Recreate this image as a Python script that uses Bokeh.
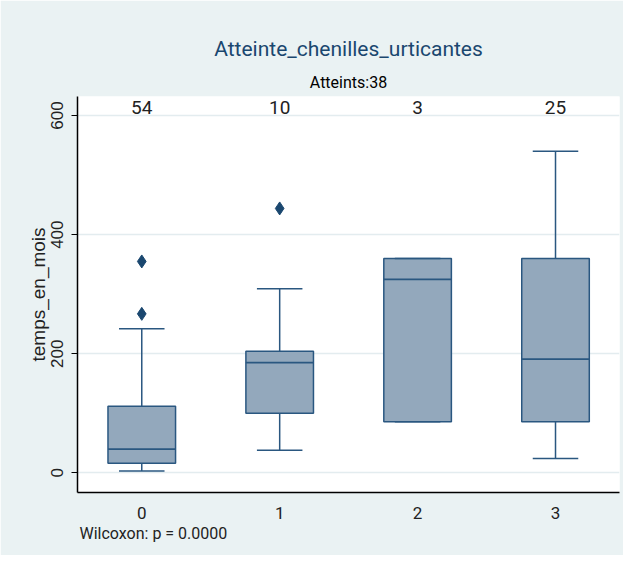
from bokeh.plotting import figure
from bokeh.models import Range1d, FixedTicker, Title
from bokeh.embed import file_html
from bokeh.resources import INLINE
from bokeh.core.properties import value

# ---- data ----
categories = ["0", "1", "2", "3"]
cat_pos = [0, 1, 2, 3]
counts = [54, 10, 3, 25]
q1 = [16, 100, 86, 86]
medians = [40, 185, 325, 191]
q3 = [112, 204, 360, 360]
whisker_low = [3, 38, 86, 24]
whisker_high = [242, 309, 360, 540]
outlier_cat = [0, 0, 1]
outlier_val = [355, 267, 444]
y_ticks = [0, 200, 400, 600]
title_text = "Atteinte_chenilles_urticantes"
subtitle_text = "Atteints:38"
note_text = "Wilcoxon: p = 0.0000"
y_label = "temps_en_mois"

# ---- style ----
FONT = "Roboto"
REG = "Liberation Sans"
BG = "#EAF2F3"
GRID = "#E3ECEF"
BOX_FILL = "#93A8BC"
LINE = "#2A5780"
NAVY = "#1A476F"
BOX_W = 0.49
CAP_W = 0.33
W, H = 623, 555

p = figure(width=W, height=H, output_backend="svg", toolbar_location=None,
           title=None, x_range=Range1d(-0.466, 3.464), y_range=Range1d(-33, 632),
           min_border_left=77, min_border_right=4, min_border_top=96, min_border_bottom=63)
p.background_fill_color = "white"
p.border_fill_color = BG
p.outline_line_color = None

# boxes
p.vbar(x=cat_pos, width=BOX_W, bottom=q1, top=q3, fill_color=BOX_FILL,
       line_color=LINE, line_width=1.5)
# medians
p.segment(x0=[c - BOX_W / 2 for c in cat_pos], x1=[c + BOX_W / 2 for c in cat_pos],
          y0=medians, y1=medians, line_color=LINE, line_width=1.8)
# whiskers
p.segment(x0=cat_pos, x1=cat_pos, y0=q3, y1=whisker_high, line_color=LINE, line_width=1.5)
p.segment(x0=cat_pos, x1=cat_pos, y0=whisker_low, y1=q1, line_color=LINE, line_width=1.5)
# caps
p.segment(x0=[c - CAP_W / 2 for c in cat_pos], x1=[c + CAP_W / 2 for c in cat_pos],
          y0=whisker_high, y1=whisker_high, line_color=LINE, line_width=1.5)
p.segment(x0=[c - CAP_W / 2 for c in cat_pos], x1=[c + CAP_W / 2 for c in cat_pos],
          y0=whisker_low, y1=whisker_low, line_color=LINE, line_width=1.5)
# outliers
p.scatter(x=outlier_cat, y=outlier_val, marker="diamond", size=13,
          fill_color=NAVY, line_color=NAVY)
# counts
p.text(x=cat_pos, y=[613] * len(cat_pos), text=[str(c) for c in counts],
       text_align="center", text_baseline="middle", text_font=value(FONT),
       text_font_size="19px", text_color="#222222")

# axes
p.xaxis.ticker = FixedTicker(ticks=cat_pos)
p.xaxis.major_label_overrides = {c: l for c, l in zip(cat_pos, categories)}
p.xaxis.major_tick_line_color = None
p.xaxis.minor_tick_line_color = None
p.xaxis.axis_line_color = "black"
p.xaxis.axis_line_width = 1.5
p.xaxis.major_label_text_font = FONT
p.xaxis.major_label_text_font_size = "17px"
p.xaxis.major_label_text_color = "#222222"
p.xaxis.major_label_standoff = 8

p.yaxis.ticker = FixedTicker(ticks=y_ticks)
p.yaxis.minor_tick_line_color = None
p.yaxis.major_tick_in = 0
p.yaxis.major_tick_out = 6
p.yaxis.major_tick_line_color = "black"
p.yaxis.axis_line_color = "black"
p.yaxis.axis_line_width = 1.5
p.yaxis.major_label_orientation = "vertical"
p.yaxis.major_label_text_font = REG
p.yaxis.major_label_text_font_size = "17px"
p.yaxis.major_label_text_color = "#222222"
p.yaxis.major_label_standoff = 8
p.yaxis.axis_label = y_label
p.yaxis.axis_label_text_font = REG
p.yaxis.axis_label_text_font_style = "normal"
p.yaxis.axis_label_text_font_size = "19px"
p.yaxis.axis_label_text_color = "#222222"
p.yaxis.axis_label_standoff = 0

p.xgrid.visible = False
p.ygrid.ticker = FixedTicker(ticks=y_ticks)
p.ygrid.grid_line_color = GRID
p.ygrid.grid_line_width = 1.5

# titles
p.add_layout(Title(text=subtitle_text, align="center", text_font=FONT,
                   text_font_size="16px", text_font_style="normal",
                   text_color="black", standoff=10), "above")
p.add_layout(Title(text=title_text, align="center", text_font=FONT,
                   text_font_size="21px", text_font_style="normal",
                   text_color=NAVY, standoff=9), "above")
p.add_layout(Title(text=note_text, align="left", offset=2, text_font=FONT,
                   text_font_size="16px", text_font_style="normal",
                   text_color="#222222", standoff=1), "below")

open("out.html", "w").write(file_html(p, INLINE))
